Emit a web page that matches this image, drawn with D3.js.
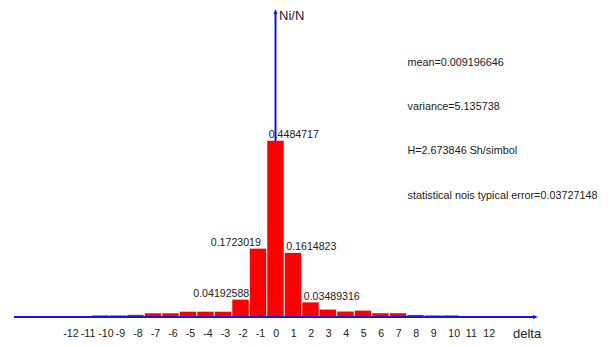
<!DOCTYPE html>
<html>
<head>
<meta charset="utf-8">
<script src="https://d3js.org/d3.v7.min.js"></script>
<style>
  body { margin: 0; background: #fff; }
  text { font-family: "Liberation Sans", Arial, sans-serif; fill: #222; }
</style>
</head>
<body>
<div id="hist"></div>
<script>
/// Data.
var deltas = [-10, -9, -8, -7, -6, -5, -4, -3, -2, -1, 0, 1, 2, 3, 4, 5, 6, 7, 8, 9, 10];
var freqs = [0.0015, 0.0015, 0.003, 0.007, 0.007, 0.011, 0.011, 0.011, 0.04192588, 0.1723019,
  0.4484717, 0.1614823, 0.03489316, 0.0165, 0.0115, 0.0138, 0.0072, 0.0072, 0.0028, 0.0015, 0.0015];
var labelled = [-2, -1, 0, 1, 2];
var tickValues = d3.range(-12, 13);
var stats = [
  "mean=0.009196646",
  "variance=5.135738",
  "H=2.673846 Sh/simbol",
  "statistical nois typical error=0.03727148"
];

var width = 610;
var height = 347;
var baseY = 316;

var svg = d3.select("#hist").append("svg").attr("width", width).attr("height", height);

var data = deltas.map(function (d, i) {
  return { delta: d, value: freqs[i] };
});

var xScale = d3.scaleBand()
  .domain(tickValues)
  .range([56.75, 494.25])
  .paddingInner(0.06)
  .paddingOuter(0.03);

var yScale = d3.scaleLinear()
  .domain([0, 0.4484717])
  .range([baseY, 140.7]);

/// Axes first, bars are painted over them
var axisColor = "#1010ff";
svg.append("line")
  .attr("x1", 14).attr("x2", 536)
  .attr("y1", baseY + 1).attr("y2", baseY + 1)
  .attr("stroke", axisColor).attr("stroke-width", 2);
svg.append("path")
  .attr("d", "M533," + (baseY - 1) + "L538," + (baseY + 1) + "L533," + (baseY + 3) + "Z")
  .attr("fill", axisColor);

var x0 = xScale(0) + xScale.bandwidth() / 2;
svg.append("line")
  .attr("x1", x0).attr("x2", x0)
  .attr("y1", baseY).attr("y2", 13)
  .attr("stroke", axisColor).attr("stroke-width", 2);
svg.append("path")
  .attr("d", "M" + (x0 - 2) + ",14L" + x0 + ",9L" + (x0 + 2) + ",14Z")
  .attr("fill", axisColor);

/// Bars
svg.selectAll("rect.bar")
  .data(data)
  .enter()
  .append("rect")
  .attr("class", "bar")
  .attr("x", function (d) { return xScale(d.delta); })
  .attr("width", xScale.bandwidth())
  .attr("y", function (d) { return yScale(d.value); })
  .attr("height", function (d) { return baseY - yScale(d.value); })
  .attr("fill", "#ff0000");

/// Value labels on the central bars
svg.selectAll("text.val")
  .data(data.filter(function (d) { return labelled.indexOf(d.delta) >= 0; }))
  .enter()
  .append("text")
  .attr("class", "val")
  .attr("x", function (d) {
    return d.delta < 0 ? xScale(d.delta) - 39 : xScale(d.delta) + 1.5;
  })
  .attr("y", function (d) { return yScale(d.value) - 2.5; })
  .attr("font-size", "10.6px")
  .text(function (d) { return d.value; });

/// Tick labels (left aligned just before the bar centre)
svg.selectAll("text.tick")
  .data(tickValues)
  .enter()
  .append("text")
  .attr("class", "tick")
  .attr("x", function (d) { return xScale(d) + xScale.bandwidth() / 2 - 2.2; })
  .attr("y", 337)
  .attr("font-size", "10.6px")
  .text(function (d) { return d; });

svg.append("text")
  .attr("x", 513)
  .attr("y", 338)
  .attr("font-size", "13px")
  .attr("fill", "#333")
  .text("delta");

svg.append("text")
  .attr("x", 279)
  .attr("y", 20)
  .attr("font-size", "13px")
  .text("Ni/N");

/// Statistics text
svg.selectAll("text.stat")
  .data(stats)
  .enter()
  .append("text")
  .attr("class", "stat")
  .attr("x", 407.5)
  .attr("y", function (d, i) { return 66 + i * 44.2; })
  .attr("font-size", "10.8px")
  .text(function (d) { return d; });
</script>
</body>
</html>
